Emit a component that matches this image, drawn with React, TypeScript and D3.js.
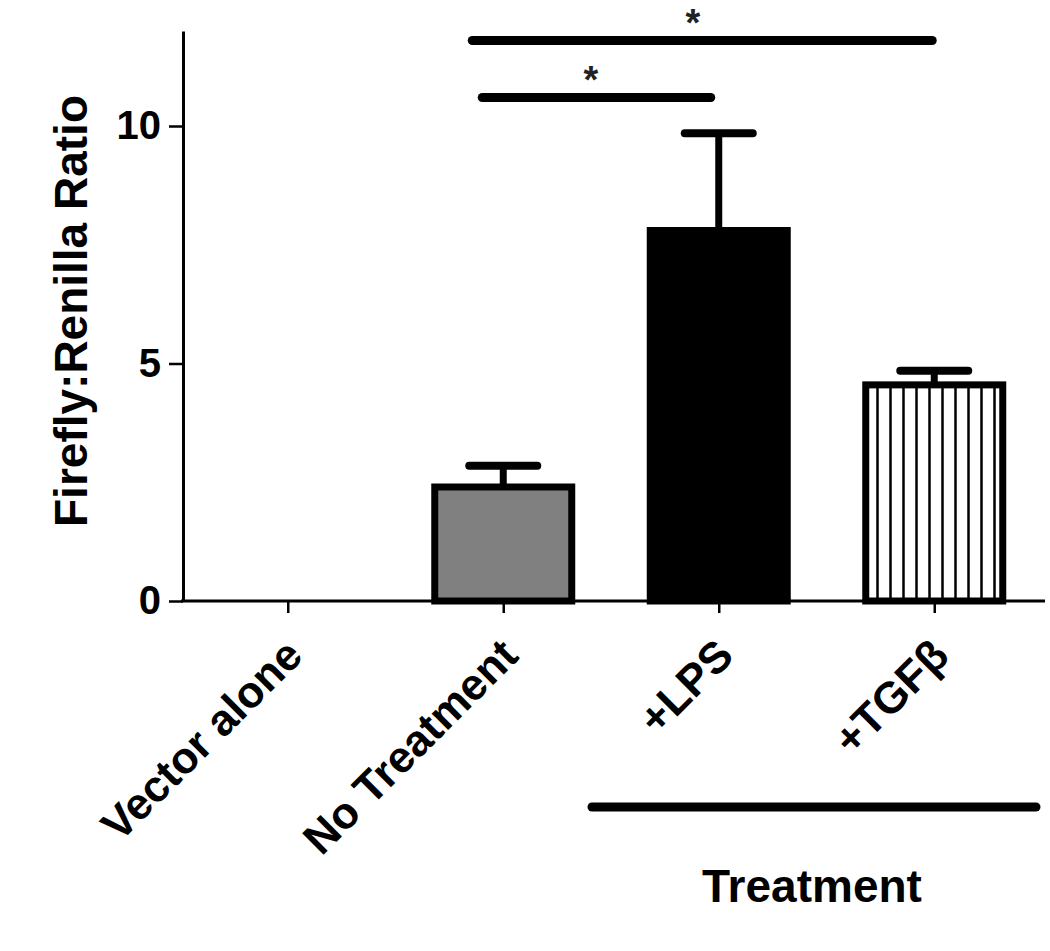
import { useRef, useEffect } from 'react';
import * as d3 from 'd3';

const categories = ['Vector alone', 'No Treatment', '+LPS', '+TGF\u03B2'];
const means = [0, 2.4, 7.8, 4.55];
const errors = [0, 0.45, 2.05, 0.3];
const fills = ['none', '#808080', '#000000', 'url(#stripes)'];
const yTicks = [0, 5, 10];
// significance brackets: [from category, to category, height]
const brackets = [
  { from: 1, to: 2, y: 10.6 },
  { from: 1, to: 3, y: 11.8 },
];

export default function App() {
  const svgRef = useRef(null);

  useEffect(() => {
    const width = 1050;
    const height = 951;
    const font = '"Liberation Sans", Arial, sans-serif';

    const svg = d3.select(svgRef.current)
      .attr('width', width)
      .attr('height', height);
    svg.selectAll('*').remove();

    const x = d3.scalePoint()
      .domain(categories)
      .range([180, 1042])
      .padding(0.5);

    const y = d3.scaleLinear()
      .domain([0, 12])
      .range([601, 31]);

    // stripe pattern for the TGF bar
    const defs = svg.append('defs');
    const pat = defs.append('pattern')
      .attr('id', 'stripes')
      .attr('patternUnits', 'userSpaceOnUse')
      .attr('width', 13)
      .attr('height', 20);
    pat.append('rect').attr('width', 13).attr('height', 20).attr('fill', '#fff');
    pat.append('line')
      .attr('x1', 6.5).attr('x2', 6.5).attr('y1', 0).attr('y2', 20)
      .attr('stroke', '#000').attr('stroke-width', 2.5);

    const barW = 137;
    const data = categories.map((c, i) => ({ c, v: means[i], e: errors[i], fill: fills[i] }));

    // error bars (drawn under the bars)
    const eb = svg.append('g');
    data.filter(d => d.v > 0).forEach(d => {
      eb.append('line')
        .attr('x1', x(d.c)).attr('x2', x(d.c))
        .attr('y1', y(d.v)).attr('y2', y(d.v + d.e))
        .attr('stroke', '#000').attr('stroke-width', 7);
      eb.append('line')
        .attr('x1', x(d.c) - 34).attr('x2', x(d.c) + 34)
        .attr('y1', y(d.v + d.e)).attr('y2', y(d.v + d.e))
        .attr('stroke', '#000').attr('stroke-width', 8)
        .attr('stroke-linecap', 'round');
    });

    // bars
    svg.append('g')
      .selectAll('rect')
      .data(data.filter(d => d.v > 0))
      .enter()
      .append('rect')
      .attr('x', d => x(d.c) - barW / 2)
      .attr('y', d => y(d.v))
      .attr('width', barW)
      .attr('height', d => y(0) - y(d.v))
      .attr('fill', d => d.fill)
      .attr('stroke', '#000')
      .attr('stroke-width', 7);

    // y axis
    const yAxis = svg.append('g')
      .attr('transform', `translate(183, 0)`)
      .call(d3.axisLeft(y).tickValues(yTicks).tickSize(14).tickPadding(8).tickSizeOuter(0));
    yAxis.select('.domain').attr('stroke-width', 3);
    yAxis.selectAll('.tick line').attr('stroke-width', 2.5);
    yAxis.selectAll('.tick text')
      .attr('font-family', font)
      .attr('font-weight', 'bold')
      .attr('font-size', 40)
      .attr('fill', '#000');

    // x axis
    const xAxis = svg.append('g')
      .attr('transform', `translate(0, ${y(0)})`)
      .call(d3.axisBottom(x).tickSize(12).tickSizeOuter(0).tickFormat(() => ''));
    xAxis.select('.domain').attr('stroke-width', 3).attr('d', 'M181,0H1045');
    xAxis.selectAll('.tick line').attr('stroke-width', 2.5);

    // rotated category labels
    svg.append('g')
      .selectAll('text')
      .data(categories)
      .enter()
      .append('text')
      .attr('transform', d => `translate(${x(d) + 17}, 658) rotate(-45)`)
      .attr('text-anchor', 'end')
      .attr('font-family', font)
      .attr('font-weight', 'bold')
      .attr('font-size', 44)
      .text(d => d);

    // y title
    svg.append('text')
      .attr('transform', 'translate(87, 311) rotate(-90)')
      .attr('text-anchor', 'middle')
      .attr('font-family', font)
      .attr('font-weight', 'bold')
      .attr('font-size', 46)
      .text('Firefly:Renilla Ratio');

    // significance brackets
    brackets.forEach((b, i) => {
      const x1 = x(categories[b.from]) - (i === 0 ? 21 : 31);
      const x2 = x(categories[b.to]) - (i === 0 ? 8 : 2);
      svg.append('line')
        .attr('x1', x1).attr('x2', x2)
        .attr('y1', y(b.y)).attr('y2', y(b.y))
        .attr('stroke', '#000').attr('stroke-width', 9)
        .attr('stroke-linecap', 'round');
      svg.append('text')
        .attr('x', i === 0 ? 591 : 693)
        .attr('y', y(b.y) - 5)
        .attr('text-anchor', 'middle')
        .attr('font-family', font)
        .attr('font-weight', 'bold')
        .attr('font-size', 38)
        .attr('fill', '#222')
        .text('*');
    });

    // treatment group line
    svg.append('line')
      .attr('x1', 592).attr('x2', 1036)
      .attr('y1', 807).attr('y2', 807)
      .attr('stroke', '#000').attr('stroke-width', 9)
      .attr('stroke-linecap', 'round');
    svg.append('text')
      .attr('x', 812)
      .attr('y', 902)
      .attr('text-anchor', 'middle')
      .attr('font-family', font)
      .attr('font-weight', 'bold')
      .attr('font-size', 46)
      .text('Treatment');
  }, []);

  return (
    <svg ref={svgRef} style={{ position: 'absolute', left: 0, top: 0, background: '#fff' }} />
  );
}
